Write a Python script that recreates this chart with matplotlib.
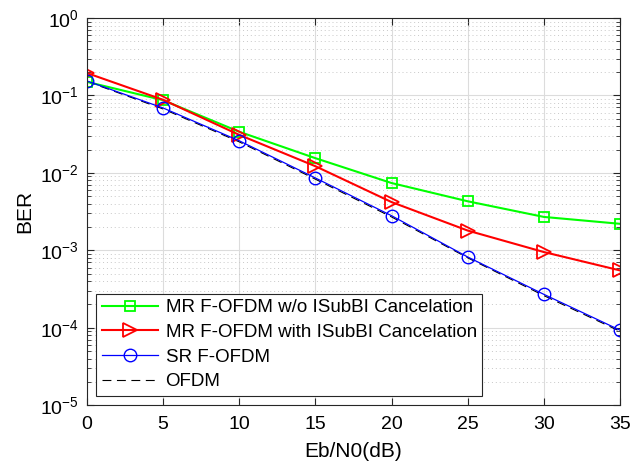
import matplotlib
matplotlib.use("Agg")
import matplotlib.pyplot as plt
from matplotlib.ticker import LogLocator, NullFormatter, FixedLocator

plt.rcParams['font.family'] = ['Liberation Sans', 'DejaVu Sans']

snr = [0, 5, 10, 15, 20, 25, 30, 35]
ber_mr_wo = [0.150, 0.087, 0.0340, 0.0155, 0.0074, 0.0043, 0.0027, 0.0022]
ber_mr_with = [0.195, 0.088, 0.0310, 0.0122, 0.0042, 0.0018, 0.00095, 0.00055]
ber_sr = [0.154, 0.069, 0.0260, 0.0086, 0.0028, 0.00082, 0.00027, 9.3e-5]
ber_ofdm = [0.152, 0.067, 0.0252, 0.0083, 0.0027, 0.00080, 0.00026, 9.0e-5]

labels = ['MR F-OFDM w/o ISubBI Cancelation',
          'MR F-OFDM with ISubBI Cancelation',
          'SR F-OFDM',
          'OFDM']

fig = plt.figure(figsize=(6.34, 4.75), dpi=100)
ax = fig.add_axes([0.137, 0.147, 0.841, 0.815])

ax.semilogy(snr, ber_mr_wo, color='#00ff00', lw=1.5, marker='s', ms=7,
            mfc='none', mew=1.3, label=labels[0])
ax.semilogy(snr, ber_mr_with, color='#ff0000', lw=1.5, marker='>', ms=10,
            mfc='none', mew=1.3, label=labels[1])
ax.semilogy(snr, ber_sr, color='#0000ff', lw=0.9, marker='o', ms=9,
            mfc='none', mew=1.0, label=labels[2])
ax.semilogy(snr, ber_ofdm, color='black', lw=0.8, ls=(0, (8, 5)),
            label=labels[3], zorder=1.5)

ax.set_xlim(0, 35)
ax.set_ylim(1e-5, 1)
ax.xaxis.set_major_locator(FixedLocator(snr))
ax.yaxis.set_major_locator(LogLocator(base=10, numticks=10))
ax.yaxis.set_minor_locator(LogLocator(base=10, subs=range(2, 10), numticks=20))
ax.yaxis.set_minor_formatter(NullFormatter())

ax.grid(True, which='major', color='#dcdcdc', lw=0.8, ls='-')
ax.grid(True, which='minor', axis='y', color='#c8c8c8', lw=0.7, ls=(0, (1, 3)))
ax.set_axisbelow(True)

ax.tick_params(which='both', direction='in', top=True, right=True,
               labelsize=14, colors='#262626', labelcolor='black')
ax.tick_params(which='major', length=5)
ax.tick_params(axis='x', which='major', pad=8)
ax.tick_params(axis='y', which='major', pad=6)
ax.tick_params(which='minor', length=3)
for s in ax.spines.values():
    s.set_color('#262626')
    s.set_linewidth(0.8)

ax.set_xlabel('Eb/N0(dB)', fontsize=15, labelpad=6)
ax.set_ylabel('BER', fontsize=15, labelpad=4)

leg = ax.legend(loc='lower left', fontsize=13.5, frameon=True, fancybox=False,
                edgecolor='#262626', framealpha=1, borderpad=0.3,
                labelspacing=0.4, handlelength=3.0, handletextpad=0.4,
                borderaxespad=0.5)
leg.get_frame().set_linewidth(0.8)

fig.savefig('out.png', dpi=100)
